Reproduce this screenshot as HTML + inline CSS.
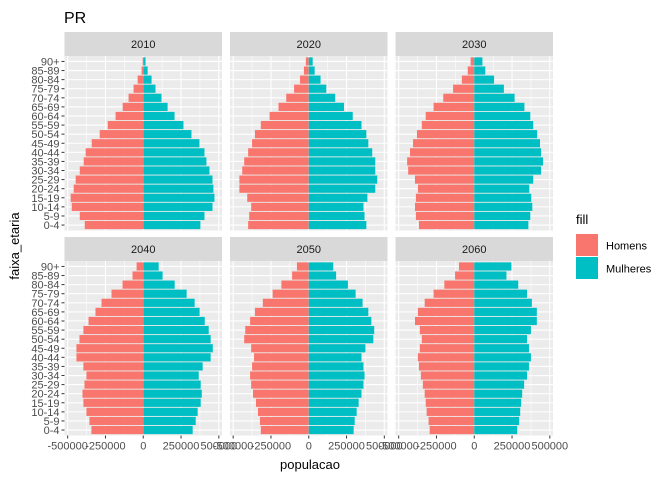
<!DOCTYPE html>
<html><head><meta charset="utf-8"><style>
body{margin:0;background:#fff}
svg{display:block;font-family:"Liberation Sans",sans-serif}
</style></head><body>
<svg id="chart" width="672" height="480" viewBox="0 0 672 480" xmlns="http://www.w3.org/2000/svg">
<rect width="672" height="480" fill="#fff"/>
<text x="64" y="23" font-size="16" fill="#000">PR</text>
<text x="310" y="469" font-size="13" text-anchor="middle" fill="#000">populacao</text>
<text transform="translate(19,246) rotate(-90)" font-size="13" text-anchor="middle" fill="#000">faixa_etaria</text>
<g>
<text x="576" y="224" font-size="13">fill</text>
<rect x="576" y="234" width="22" height="22" fill="#F8766D"/>
<text x="606" y="249.5" font-size="11">Homens</text>
<rect x="576" y="257" width="22" height="22" fill="#00BFC4"/>
<text x="606" y="272.5" font-size="11">Mulheres</text>
</g>
<g id="panels"></g>
</svg>
<script>
const categories=["0-4","5-9","10-14","15-19","20-24","25-29","30-34","35-39","40-44","45-49","50-54","55-59","60-64","65-69","70-74","75-79","80-84","85-89","90+"];
const years=["2010","2020","2030","2040","2050","2060"];
const tickValues=[-500000,-250000,0,250000,500000];
const tickLabels=["-500000","-250000","0","250000","500000"];
const men2010=[387,420,473,480,460,447,420,394,381,341,288,235,183,136,97,64,37,11,4];
const women2010=[378,405,458,471,464,458,438,418,405,372,319,266,207,161,121,81,55,29,15];
const men2020=[401,394,381,407,459,459,440,427,401,375,356,317,259,200,149,97,58,32,19];
const women2020=[381,369,362,388,440,453,440,440,420,394,381,349,291,233,175,116,78,39,26];
const men2030=[366,386,392,386,373,392,437,444,425,405,379,347,321,269,205,140,82,43,24];
const women2030=[358,371,384,377,364,390,442,455,442,435,416,390,371,332,267,196,131,73,54];
const men2040=[343,356,376,396,402,389,376,396,442,442,422,396,362,316,276,210,137,71,44];
const women2040=[327,347,360,380,387,380,367,393,446,460,446,433,407,373,340,287,208,128,102];
const men2050=[317,323,336,349,369,381,388,375,362,381,427,420,388,356,304,239,181,110,78];
const women2050=[297,304,317,330,349,362,369,362,349,375,427,433,414,394,356,310,259,181,162];
const men2060=[295,302,315,321,328,340,353,366,373,360,347,360,392,373,328,269,198,127,101];
const women2060=[284,297,304,310,317,330,349,362,375,362,349,375,414,414,381,349,291,213,246];
const menByYear=[men2010,men2020,men2030,men2040,men2050,men2060];
const womenByYear=[women2010,women2020,women2030,women2040,women2050,women2060];

const NS="http://www.w3.org/2000/svg";
const g=document.getElementById("panels");
function mk(tag,attrs,parent){const e=document.createElementNS(NS,tag);for(const k in attrs)e.setAttribute(k,attrs[k]);(parent||g).appendChild(e);return e;}
const colX=[64.5,230,395.5], rowY=[56,261], PW=157.5, PH=174.5, LIM=521000;
const n=categories.length, units=(n-1)+1.2;
years.forEach((yr,i)=>{
  const px=colX[i%3], py=rowY[Math.floor(i/3)];
  const xs=v=>px+PW/2+v/LIM*(PW/2);
  const ys=k=>py+PH-(0.6+k)*PH/units;
  const strip=mk("rect",{x:px,y:py-24,width:PW,height:24,fill:"#D9D9D9"});
  
  
  const st=mk("text",{x:px+PW/2,y:py-8,"font-size":"11","text-anchor":"middle",fill:"#1a1a1a"});
  st.textContent=yr;
  
  
  const bg=mk("rect",{x:px,y:py,width:PW,height:PH,fill:"#EBEBEB"});
  
  
  [-375000,-125000,125000,375000].forEach(v=>{mk("line",{x1:xs(v),x2:xs(v),y1:py,y2:py+PH,stroke:"#fff","stroke-width":"0.55"});});
  tickValues.forEach(v=>{mk("line",{x1:xs(v),x2:xs(v),y1:py,y2:py+PH,stroke:"#fff","stroke-width":"1.1"});});
  categories.forEach((c,k)=>{mk("line",{x1:px,x2:px+PW,y1:ys(k),y2:ys(k),stroke:"#fff","stroke-width":"1.1"});});
  const bh=0.9*PH/units;
  categories.forEach((c,k)=>{
    const m=menByYear[i][k]*1000, w=womenByYear[i][k]*1000;
    const rm=mk("rect",{x:xs(-m),y:ys(k)-bh/2,width:xs(0)-xs(-m),height:bh,fill:"#F8766D"});
    
    
    const rw=mk("rect",{x:xs(0),y:ys(k)-bh/2,width:xs(w)-xs(0),height:bh,fill:"#00BFC4"});
    
    
  });
  if(i>=3){
    tickValues.forEach((v,t)=>{
      mk("line",{x1:xs(v),x2:xs(v),y1:py+PH,y2:py+PH+3,stroke:"#333","stroke-width":"1"});
      const tl=mk("text",{x:xs(v),y:py+PH+14,"font-size":"11","text-anchor":"middle",fill:"#4D4D4D"});
      tl.textContent=tickLabels[t];
      
      
    });
  }
  if(i%3===0){
    categories.forEach((c,k)=>{
      mk("line",{x1:px-3,x2:px,y1:ys(k),y2:ys(k),stroke:"#333","stroke-width":"1"});
      const tl=mk("text",{x:px-5,y:ys(k)+4,"font-size":"11","text-anchor":"end",fill:"#4D4D4D"});
      tl.textContent=c;
      
      
    });
  }
});
</script>
</body></html>
